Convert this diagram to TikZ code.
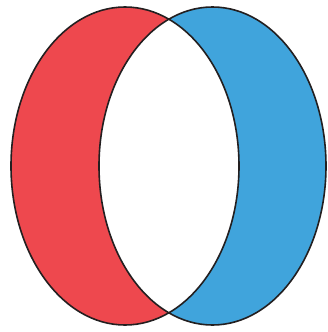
\documentclass[tikz,border=0pt]{standalone}
\definecolor{lred}{HTML}{EE484E}
\definecolor{rblue}{HTML}{40A4DC}
\definecolor{edge}{HTML}{231F20}
\tikzset{outline/.style={draw=edge,line width=1.6pt}}
\begin{document}
\begin{tikzpicture}[x=1pt,y=-1pt]
\useasboundingbox (0,0) rectangle (327,332);
\coordinate (L) at (125,166);
\coordinate (R) at (212.5,166);
\fill[lred] (L) ellipse [x radius=114, y radius=159];
\fill[rblue] (R) ellipse [x radius=113.5, y radius=159];
\begin{scope}
\clip (L) ellipse [x radius=114, y radius=159];
\fill[white] (R) ellipse [x radius=113.5, y radius=159];
\end{scope}
\draw[outline] (L) ellipse [x radius=114, y radius=159];
\draw[outline] (R) ellipse [x radius=113.5, y radius=159];
\end{tikzpicture}
\end{document}
